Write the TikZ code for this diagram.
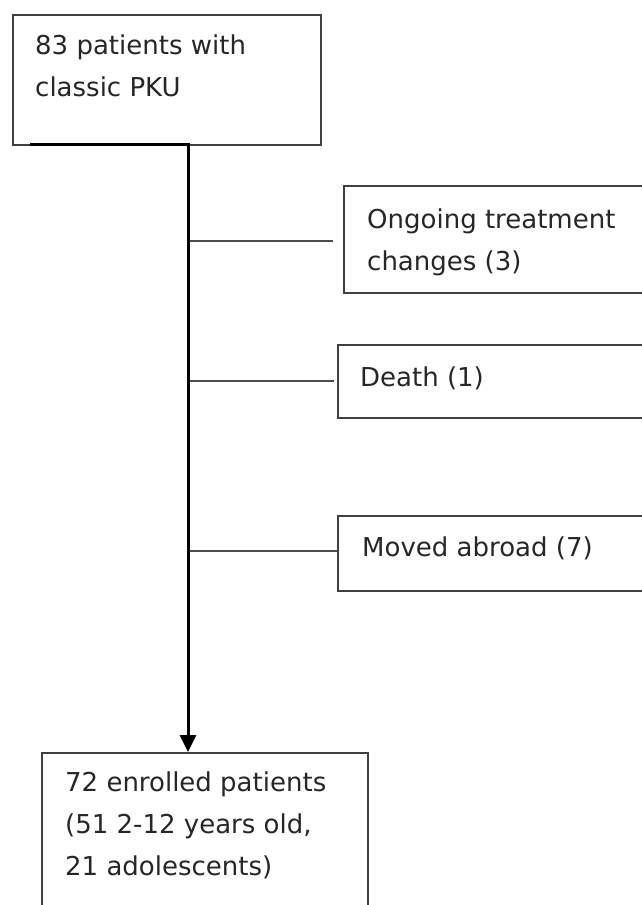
\documentclass[tikz,border=0pt]{standalone}
\usepackage{fontspec}
\setmainfont{DejaVu Sans}
\usetikzlibrary{arrows.meta,calc}
\begin{document}
\begin{tikzpicture}[x=1pt,y=-1pt,
  boxline/.style={draw=black!75, line width=2pt},
  lbl/.style={anchor=west, inner sep=0pt, align=left, font=\fontsize{26}{42}\selectfont, text=black!85},
  trunk/.style={draw=black, line width=3pt},
  branch/.style={draw=black!70, line width=1.5pt}]
\useasboundingbox (0,0) rectangle (642,905);
\clip (0,0) rectangle (642,905);
% boxes
\node[boxline, minimum width=308pt, minimum height=130pt, anchor=north west, inner sep=0pt] (top) at (12,14) {};
\node[boxline, minimum width=330pt, minimum height=107pt, anchor=north west, inner sep=0pt] (b1) at (343,185) {};
\node[boxline, minimum width=330pt, minimum height=73pt, anchor=north west, inner sep=0pt] (b2) at (337,344) {};
\node[boxline, minimum width=330pt, minimum height=75pt, anchor=north west, inner sep=0pt] (b3) at (337,515) {};
\node[boxline, minimum width=326pt, minimum height=200pt, anchor=north west, inner sep=0pt] (bot) at (41,752) {};
% labels
\node[lbl] (t1) at (35,66) {83 patients with\\classic PKU};
\node[lbl] (t2) at (367,242) {Ongoing treatment\\changes (3)};
\node[lbl] (t3) at (360,378) {Death (1)};
\node[lbl] (t4) at (362,548) {Moved abroad (7)};
\node[lbl] (t5) at (65,825) {72 enrolled patients\\(51 2-12 years old,\\21 adolescents)};
% connectors
\coordinate (tk) at (30,144);
\coordinate (j) at (188,144);
\draw[branch] (188,241) -- ($(b1.west |- 0,241)+(-10,0)$);
\draw[branch] (188,381) -- ($(b2.west |- 0,381)+(-3,0)$);
\draw[branch] (188,551) -- (b3.west |- 0,551);
\draw[trunk, -{Triangle[length=17pt,width=16pt]}] (tk) -- (j) -- (j |- bot.north);
\end{tikzpicture}
\end{document}
